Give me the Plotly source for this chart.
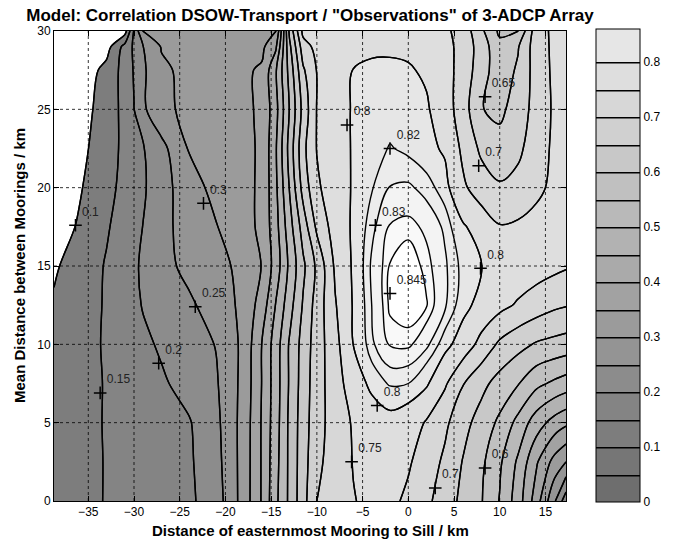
import numpy as np
import plotly.graph_objects as go

# ---------------- data ----------------
x_km = [-38.75, -36, -33, -31, -30, -29, -27, -24, -21, -18, -16, -14.5, -13, -11.5,
        -10, -8, -6, -4, -2, 0, 2, 4, 6, 8, 10, 12, 14, 16, 17.25]
y_km = [0, 2.5, 5, 7.5, 10, 12.5, 15, 17.5, 20, 22.5, 25, 27.5, 29, 30]

corr_y00_0 = [0.125, 0.138, 0.152, 0.161, 0.165, 0.169, 0.178, 0.191, 0.226, 0.321, 0.405, 0.488, 0.560, 0.632,
              0.700, 0.724, 0.748, 0.760, 0.762, 0.740, 0.711, 0.675, 0.637, 0.603, 0.547, 0.475, 0.375, 0.256, 0.170]
corr_y02_5 = [0.122, 0.137, 0.152, 0.161, 0.166, 0.170, 0.179, 0.193, 0.233, 0.320, 0.405, 0.483, 0.560, 0.629,
              0.688, 0.724, 0.752, 0.768, 0.775, 0.756, 0.725, 0.691, 0.647, 0.610, 0.558, 0.492, 0.407, 0.332, 0.300]
corr_y05_0 = [0.120, 0.135, 0.153, 0.163, 0.167, 0.172, 0.181, 0.196, 0.238, 0.319, 0.405, 0.478, 0.560, 0.627,
              0.680, 0.724, 0.755, 0.775, 0.790, 0.780, 0.745, 0.710, 0.667, 0.629, 0.590, 0.535, 0.474, 0.430, 0.410]
corr_y07_5 = [0.117, 0.133, 0.153, 0.167, 0.173, 0.180, 0.193, 0.218, 0.245, 0.315, 0.402, 0.476, 0.555, 0.623,
              0.678, 0.728, 0.776, 0.810, 0.822, 0.820, 0.806, 0.757, 0.702, 0.664, 0.631, 0.603, 0.563, 0.540, 0.527]
corr_y10_0 = [0.115, 0.132, 0.155, 0.173, 0.182, 0.190, 0.2065, 0.228, 0.252, 0.312, 0.402, 0.474, 0.555, 0.619,
              0.675, 0.734, 0.801, 0.828, 0.841, 0.842, 0.833, 0.813, 0.779, 0.734, 0.691, 0.666, 0.645, 0.635, 0.629]
corr_y12_5 = [0.105, 0.128, 0.1545, 0.177, 0.189, 0.203, 0.2167, 0.2417, 0.272, 0.3125, 0.373, 0.452, 0.530, 0.605,
              0.671, 0.746, 0.804, 0.830, 0.8465, 0.849, 0.8455, 0.832, 0.812, 0.786, 0.764, 0.744, 0.726, 0.709, 0.703]
corr_y15_0 = [0.094, 0.121, 0.154, 0.180, 0.193, 0.207, 0.234, 0.263, 0.284, 0.314, 0.352, 0.422, 0.511, 0.590,
              0.660, 0.758, 0.806, 0.832, 0.8455, 0.849, 0.843, 0.832, 0.816, 0.801, 0.790, 0.782, 0.772, 0.762, 0.755]
corr_y17_5 = [0.075, 0.105, 0.145, 0.172, 0.186, 0.201, 0.236, 0.269, 0.298, 0.331, 0.3615, 0.431, 0.529, 0.622,
              0.710, 0.773, 0.806, 0.827, 0.841, 0.843, 0.838, 0.828, 0.805, 0.780, 0.753, 0.758, 0.768, 0.775, 0.778]
corr_y20_0 = [0.058, 0.095, 0.135, 0.164, 0.179, 0.194, 0.229, 0.280, 0.314, 0.338, 0.358, 0.439, 0.552, 0.669,
              0.742, 0.778, 0.804, 0.819, 0.8305, 0.832, 0.826, 0.813, 0.758, 0.725, 0.706, 0.715, 0.738, 0.762, 0.775]
corr_y22_5 = [0.058, 0.085, 0.129, 0.161, 0.179, 0.196, 0.2346, 0.303, 0.322, 0.340, 0.356, 0.444, 0.567, 0.686,
              0.752, 0.779, 0.804, 0.814, 0.821, 0.817, 0.810, 0.795, 0.739, 0.690, 0.670, 0.690, 0.725, 0.760, 0.772]
corr_y25_0 = [0.057, 0.076, 0.124, 0.164, 0.199, 0.2417, 0.2875, 0.312, 0.328, 0.343, 0.356, 0.433, 0.552, 0.667,
              0.752, 0.780, 0.804, 0.810, 0.813, 0.810, 0.805, 0.775, 0.723, 0.652, 0.638, 0.674, 0.718, 0.758, 0.770]
corr_y27_5 = [0.056, 0.062, 0.117, 0.168, 0.204, 0.242, 0.291, 0.313, 0.328, 0.343, 0.356, 0.444, 0.567, 0.693,
              0.752, 0.778, 0.801, 0.805, 0.806, 0.804, 0.794, 0.768, 0.731, 0.671, 0.622, 0.657, 0.722, 0.760, 0.770]
corr_y29_0 = [0.056, 0.058, 0.079, 0.167, 0.208, 0.249, 0.303, 0.310, 0.318, 0.328, 0.340, 0.390, 0.5875, 0.728,
              0.765, 0.780, 0.790, 0.795, 0.795, 0.792, 0.782, 0.765, 0.734, 0.675, 0.615, 0.646, 0.727, 0.760, 0.770]
corr_y30_0 = [0.056, 0.057, 0.060, 0.080, 0.205, 0.305, 0.310, 0.312, 0.315, 0.320, 0.330, 0.342, 0.610, 0.765,
              0.775, 0.785, 0.790, 0.792, 0.792, 0.788, 0.777, 0.760, 0.730, 0.660, 0.590, 0.598, 0.730, 0.760, 0.770]

# contour labels (clabel '+' markers)
label_x = [-36.4, -33.7, -27.3, -23.3, -22.4, -6.2, -6.7, -2.0, -3.6, -2.0, -3.4, 8.4, 7.7, 7.9, 2.95, 8.4]
label_y = [17.6, 6.9, 8.8, 12.4, 19.0, 2.5, 24.0, 22.5, 17.6, 13.25, 6.1, 25.8, 21.4, 14.85, 0.83, 2.1]
label_text = ['0.1', '0.15', '0.2', '0.25', '0.3', '0.75', '0.8', '0.82', '0.83', '0.845', '0.8',
              '0.65', '0.7', '0.8', '0.7', '0.6']

x_ticks = [-35, -30, -25, -20, -15, -10, -5, 0, 5, 10, 15]
y_ticks = [0, 5, 10, 15, 20, 25, 30]
cbar_ticks = [0, 0.1, 0.2, 0.3, 0.4, 0.5, 0.6, 0.7, 0.8]

# ---------------- figure ----------------
z = np.array([corr_y00_0, corr_y02_5, corr_y05_0, corr_y07_5, corr_y10_0, corr_y12_5, corr_y15_0,
              corr_y17_5, corr_y20_0, corr_y22_5, corr_y25_0, corr_y27_5, corr_y29_0, corr_y30_0])

FONT = "Liberation Sans, Arial, Helvetica, sans-serif"
OFF = 8  # the page body has an 8px default margin


def g(v):
    v = int(round(v))
    return f"rgb({v},{v},{v})"


def band_scale(colors, n):
    """Step colorscale for an n-level filled contour: colors[0] below the first level,
    colors[k+1] for the band above level k (held flat so the band sampling point is safe)."""
    cs = [[0, colors[0]], [0.5 / n, colors[0]]]
    for k in range(n - 1):
        cs.append([(k + 1) / n, colors[k + 1]])
        cs.append([(k + 1.5) / n, colors[k + 1]])
    cs.append([1, colors[n]])
    return cs


# levels 0.05 .. 0.8 step 0.05
nc = 16
band_gray = [g(110 + 7.5 * j) for j in range(17)]
plot_gray = list(band_gray)
plot_gray[0] = g(255)  # MATLAB left the area below 0.1 white in the plot
plot_gray[1] = g(255)

contour_levels = dict(start=0.05, end=0.8, size=0.05, coloring="fill", showlines=True)
TR = "rgba(255,255,255,0)"
fig = go.Figure()

# colour-bar carrier (hidden underneath the plotted fill)
fig.add_trace(go.Contour(
    x=x_km, y=y_km, z=z,
    zmin=0, zmax=0.86,
    contours=contour_levels,
    colorscale=band_scale(band_gray, nc),
    line=dict(color="black", width=1.4, smoothing=1.0),
    hoverinfo="skip",
    colorbar=dict(
        x=(596 - 54) / 512, xanchor="left",
        y=-0.002, yanchor="bottom",
        len=473, lenmode="pixels",
        thickness=44, thicknessmode="pixels",
        outlinecolor="black", outlinewidth=1,
        tickvals=cbar_ticks, ticks="",
        tickfont=dict(family=FONT, size=12, color="black"),
        xpad=0, ypad=0,
    ),
))

# plotted filled contours
fig.add_trace(go.Contour(
    x=x_km, y=y_km, z=z,
    zmin=0, zmax=0.86,
    contours=contour_levels,
    colorscale=band_scale(plot_gray, nc),
    line=dict(color="black", width=1.4, smoothing=1.0),
    showscale=False, hoverinfo="skip",
))

# lighter fill near the maximum (transparent below 0.82)
peak_cols = [TR, g(236), g(236), g(243), g(243), g(249), g(255)]
fig.add_trace(go.Contour(
    x=x_km, y=y_km, z=z,
    contours=dict(start=0.82, end=0.845, size=0.005, coloring="fill", showlines=False),
    colorscale=band_scale(peak_cols, 6),
    line=dict(width=0, smoothing=1.0),
    showscale=False, hoverinfo="skip",
))

# contour lines on top
for st, en, sz in [(0.05, 0.8, 0.05), (0.82, 0.84, 0.01), (0.845, 0.845, 0.01)]:
    fig.add_trace(go.Contour(
        x=x_km, y=y_km, z=z,
        contours=dict(start=st, end=en, size=sz, coloring="none"),
        line=dict(color="black", width=1.4, smoothing=1.0),
        showscale=False, hoverinfo="skip",
    ))

fig.add_trace(go.Scatter(
    x=label_x, y=label_y, text=label_text, mode="markers+text",
    marker=dict(symbol="cross-thin", size=9, line=dict(color="black", width=1.5), color="black"),
    textposition="top right",
    textfont=dict(family=FONT, size=12, color="#222222"),
    hoverinfo="skip", showlegend=False,
))

shapes = []
for t in x_ticks:
    shapes.append(dict(type="line", xref="x", yref="y domain", x0=t, x1=t, y0=0, y1=1,
                       line=dict(color="black", width=0.8, dash="3px,3px"), layer="above"))
for t in y_ticks[1:-1]:
    shapes.append(dict(type="line", xref="x domain", yref="y", x0=0, x1=1, y0=t, y1=t,
                       line=dict(color="black", width=0.8, dash="3px,3px"), layer="above"))

annotations = [
    dict(text="<b>Distance of easternmost Mooring to Sill / km</b>", xref="paper", yref="paper",
         x=0.5, y=(501 - 530) / 470, xanchor="center", yanchor="middle", showarrow=False,
         font=dict(family=FONT, size=15, color="black")),
    dict(text="<b>Mean Distance between Moorings / km</b>", xref="paper", yref="paper",
         x=(19 - 54) / 512, y=0.5, xanchor="center", yanchor="middle", showarrow=False,
         textangle=-90, font=dict(family=FONT, size=15, color="black")),
]

fig.update_layout(
    width=692, height=542,
    margin=dict(l=54 - OFF, r=692 - (566 - OFF), t=31 - OFF, b=542 - (501 - OFF)),
    paper_bgcolor="white", plot_bgcolor="white",
    font=dict(family=FONT, size=12, color="black"),
    showlegend=False,
    shapes=shapes,
    annotations=annotations,
    title=dict(text='<b>Model: Correlation DSOW-Transport / "Observations" of 3-ADCP Array</b>',
               x=0.5, xref="paper", xanchor="center",
               y=1 - 1 / 542, yref="container", yanchor="top", pad=dict(t=0, b=0),
               font=dict(family=FONT, size=17, color="black")),
    xaxis=dict(range=[-38.75, 17.25], tickvals=x_ticks, showgrid=False, zeroline=False,
               showline=True, linecolor="black", linewidth=1, mirror="ticks",
               ticks="inside", ticklen=5, tickcolor="black", layer="above traces",
               tickfont=dict(size=12)),
    yaxis=dict(range=[0, 30], tickvals=y_ticks, showgrid=False, zeroline=False,
               showline=True, linecolor="black", linewidth=1, mirror="ticks",
               ticks="inside", ticklen=5, tickcolor="black", layer="above traces",
               tickfont=dict(size=12)),
)

fig.write_html("out.html", config={"displayModeBar": False})
